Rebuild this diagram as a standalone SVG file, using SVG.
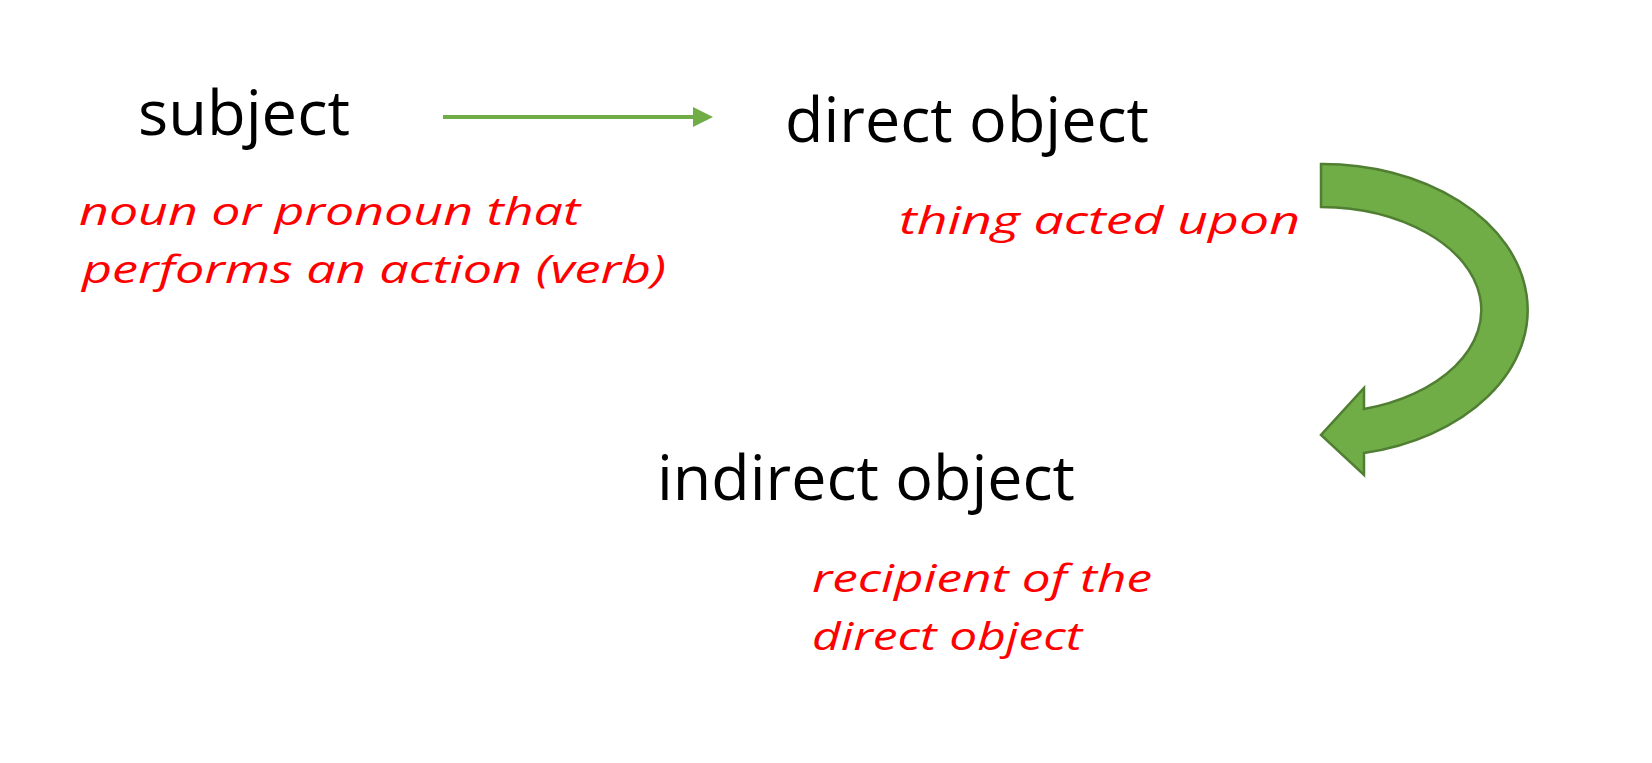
<svg xmlns="http://www.w3.org/2000/svg" width="1652" height="763" viewBox="0 0 1652 763">
<style>
.term{font-family:"Open Sans","Noto Sans","Liberation Sans",sans-serif;font-size:63px;fill:#000}
.note{font-family:"Open Sans","Noto Sans","Liberation Sans",sans-serif;font-style:italic;font-size:39px;fill:#FF0000}
.green{fill:#70AD47}
</style>
<defs>
<marker id="head" markerWidth="5" markerHeight="5" refX="0" refY="2.5" orient="auto" markerUnits="strokeWidth">
<path d="M0,0 L5,2.5 L0,5 Z" class="green"/>
</marker>
</defs>
<rect width="1652" height="763" fill="#fff"/>
<g id="connectors">
<line x1="443" y1="117" x2="693" y2="117" stroke="#70AD47" stroke-width="4" marker-end="url(#head)"/>
<path d="M1321,164 A205,146 0 0 1 1364,453 L1364,475 L1321,435 L1364,388 L1364,409 A162,103 0 0 0 1321,207 Z" fill="#70AD47" stroke="#507E32" stroke-width="2.5" stroke-linejoin="miter"/>
</g>
<g id="subject">
<text class="term" x="138" y="135" textLength="212" lengthAdjust="spacingAndGlyphs">subject</text>
<text class="note" x="79" y="225" textLength="501" lengthAdjust="spacingAndGlyphs">noun or pronoun that</text>
<text class="note" x="82" y="283" textLength="584" lengthAdjust="spacingAndGlyphs">performs an action (verb)</text>
</g>
<g id="direct-object">
<text class="term" x="785" y="142" textLength="364" lengthAdjust="spacingAndGlyphs">direct object</text>
<text class="note" x="899" y="234" textLength="401" lengthAdjust="spacingAndGlyphs">thing acted upon</text>
</g>
<g id="indirect-object">
<text class="term" x="657" y="500" textLength="418" lengthAdjust="spacingAndGlyphs">indirect object</text>
<text class="note" x="812" y="592" textLength="340" lengthAdjust="spacingAndGlyphs">recipient of the</text>
<text class="note" x="812" y="650" textLength="270" lengthAdjust="spacingAndGlyphs">direct object</text>
</g>
</svg>
